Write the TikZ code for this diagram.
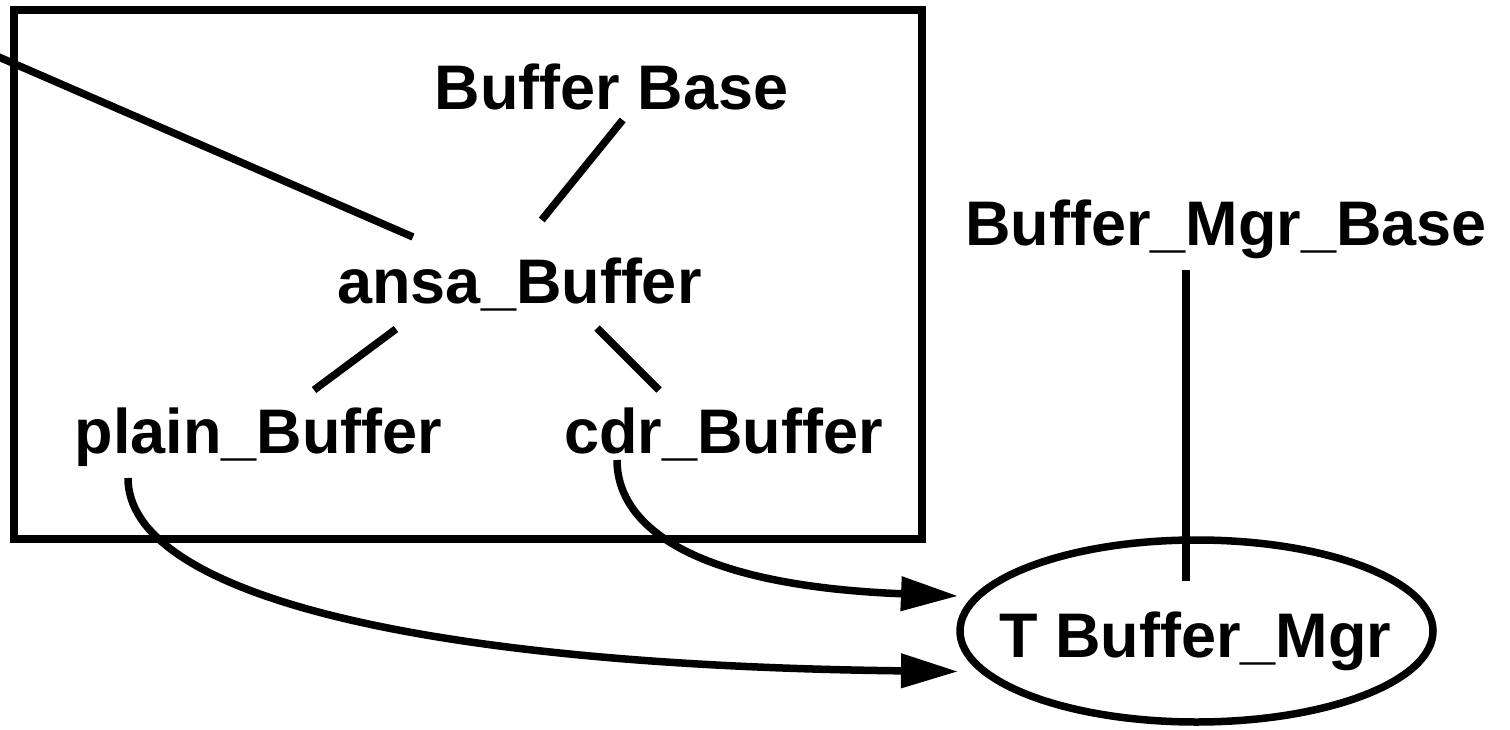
\documentclass[tikz,border=0pt]{standalone}
\usepackage{fontspec}
\setmainfont{Liberation Sans}
\usetikzlibrary{calc,shapes.geometric,arrows.meta}

\begin{document}
\begin{tikzpicture}[x=1pt,y=-1pt,
  every node/.style={inner sep=0pt,outer sep=0pt},
  lbl/.style={anchor=base,font=\fontsize{63}{63}\selectfont\bfseries},
  conn/.style={line width=7.5pt},
  flow/.style={line width=7.5pt,-{Triangle[length=57pt,width=33pt]}},
  frame/.style={draw,line width=7.5pt,minimum width=908pt,minimum height=529pt},
  oval/.style={draw,ellipse,line width=7.5pt,minimum width=473pt,minimum height=182pt}]

\useasboundingbox (0,0) rectangle (1510,730);

% package frame and the mgr ellipse
\node[frame] (pkg) at (468,274.5) {};
\node[oval] (tmgr) at (1196.5,631) {};

% class names
\node[lbl] (bbase)   at (611.5,110) {Buffer Base};
\node[lbl] (ansa)    at (519.5,303) {ansa\_Buffer};
\node[lbl] (plain)   at (258.5,453) {plain\_Buffer};
\node[lbl] (cdr)     at (723.5,453) {cdr\_Buffer};
\node[lbl] (mgrbase) at (1226,245)  {Buffer\_Mgr\_Base};
\node[lbl] (tmgrlbl) at ($(tmgr.center)+(-1,26)$) {T Buffer\_Mgr};

% line leaving the frame to the left
\coordinate (offleft) at (-10,53.2);

% inheritance links
\draw[conn] ($(ansa.base)+(-106.5,-66)$) -- (offleft);
\draw[conn] ($(bbase.base)+(11.2,10)$) -- ($(ansa.base)+(22.2,-83)$);
\draw[conn] ($(ansa.base)+(-123.5,26)$) -- ($(plain.base)+(55.5,-63)$);
\draw[conn] ($(ansa.base)+(77.5,25)$) -- ($(cdr.base)+(-64.5,-63)$);
\draw[conn] ($(mgrbase.base)+(-40,25)$) -- ($(tmgr.center)+(-10.5,-50)$);

% uses links into the manager
\draw[flow] ($(cdr.base)+(-106.5,7)$)
  .. controls ($(cdr.base)+(-106.5,67)$) and (680,585) ..
  ($(tmgr.west)+(-2,-35)$);
\draw[flow] ($(plain.base)+(-130.5,25)$)
  .. controls ($(plain.base)+(-130.5,137)$) and (400,665) ..
  ($(tmgr.west)+(-2,40.5)$);
\end{tikzpicture}
\end{document}
